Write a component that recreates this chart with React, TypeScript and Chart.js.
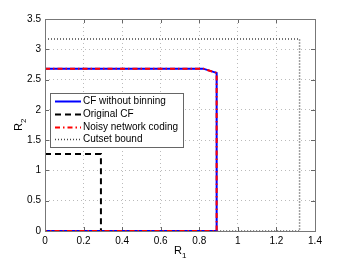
import React, { useEffect, useRef } from "react";
import { Chart, registerables } from "chart.js";

Chart.register(...registerables);

const cfX = [0, 0.82, 0.89, 0.89, 0];
const cfY = [2.68, 2.68, 2.61, 0, 0];
const origX = [0, 0.29, 0.29];
const origY = [1.27, 1.27, 0];
const nncX = [0, 0.82, 0.89, 0.89, 0];
const nncY = [2.68, 2.68, 2.61, 0, 0];
const cutX = [0, 1.32, 1.32, 0.89];
const cutY = [3.17, 3.17, 0, 0];
const xTicks = [0, 0.2, 0.4, 0.6, 0.8, 1, 1.2, 1.4];
const yTicks = [0, 0.5, 1, 1.5, 2, 2.5, 3, 3.5];
const legendLabels = ["CF without binning", "Original CF", "Noisy network coding", "Cutset bound"];

const FONT = "'Liberation Sans', Arial, sans-serif";

const pts = (xs: number[], ys: number[]) => xs.map((x, i) => ({ x, y: ys[i] }));

const decorPlugin = {
  id: "decor",
  beforeDatasetsDraw(chart: any) {
    const { ctx, chartArea: a } = chart;
    ctx.save();
    ctx.strokeStyle = "#666";
    ctx.lineWidth = 1;
    const xs = chart.scales.x;
    const ys = chart.scales.y;
    ctx.beginPath();
    xTicks.forEach((t) => {
      const px = Math.round(xs.getPixelForValue(t)) + 0.5;
      ctx.moveTo(px, a.bottom);
      ctx.lineTo(px, a.bottom - 4);
      ctx.moveTo(px, a.top);
      ctx.lineTo(px, a.top + 4);
    });
    yTicks.forEach((t) => {
      const py = Math.round(ys.getPixelForValue(t)) + 0.5;
      ctx.moveTo(a.left, py);
      ctx.lineTo(a.left + 4, py);
      ctx.moveTo(a.right, py);
      ctx.lineTo(a.right - 4, py);
    });
    ctx.stroke();
    ctx.restore();
  },
  afterDatasetsDraw(chart: any) {
    const { ctx, chartArea: a } = chart;
    ctx.save();
    ctx.strokeStyle = "#777";
    ctx.lineWidth = 1;
    ctx.strokeRect(Math.round(a.left) + 0.5, Math.round(a.top) + 0.5, Math.round(a.right - a.left), Math.round(a.bottom - a.top));
    ctx.fillStyle = "#000";
    ctx.textBaseline = "alphabetic";
    ctx.font = `11px ${FONT}`;
    const cx = (a.left + a.right) / 2;
    ctx.textAlign = "left";
    ctx.fillText("R", cx - 6, 254);
    ctx.font = `8px ${FONT}`;
    ctx.fillText("1", cx + 2, 258);
    ctx.save();
    ctx.translate(22, (a.top + a.bottom) / 2);
    ctx.rotate(-Math.PI / 2);
    ctx.font = `11px ${FONT}`;
    ctx.fillText("R", -6, 0);
    ctx.font = `8px ${FONT}`;
    ctx.fillText("2", 2, 4);
    ctx.restore();
    const lx = 50.5, ly = 93.5, lw = 133, lh = 54;
    ctx.fillStyle = "#fff";
    ctx.fillRect(lx, ly, lw, lh);
    ctx.strokeStyle = "#666";
    ctx.lineWidth = 1;
    ctx.strokeRect(lx, ly, lw, lh);
    const rows = [101, 114, 127, 139];
    ctx.font = `10px ${FONT}`;
    ctx.textBaseline = "middle";
    chart.data.datasets.forEach((ds: any, i: number) => {
      const y = rows[i] + 0.5;
      ctx.save();
      ctx.strokeStyle = ds.borderColor;
      ctx.lineWidth = ds.borderWidth;
      ctx.setLineDash(ds.borderDash || []);
      ctx.beginPath();
      ctx.moveTo(55, y);
      ctx.lineTo(81, y);
      ctx.stroke();
      ctx.restore();
      ctx.fillStyle = "#000";
      ctx.fillText(legendLabels[i], 83, y);
    });
    ctx.restore();
  },
};

export default function App() {
  const ref = useRef<HTMLCanvasElement>(null);
  useEffect(() => {
    document.body.style.margin = "0";
    const chart = new Chart(ref.current!, {
      type: "line",
      data: {
        datasets: [
          {
            label: legendLabels[0],
            data: pts(cfX, cfY),
            borderColor: "#0000ff",
            borderWidth: 2,
            pointRadius: 0,
            fill: false,
            tension: 0,
            order: 3,
          },
          {
            label: legendLabels[1],
            data: pts(origX, origY),
            borderColor: "#000",
            borderWidth: 2,
            borderDash: [6, 4],
            pointRadius: 0,
            fill: false,
            order: 2,
          },
          {
            label: legendLabels[2],
            data: pts(nncX, nncY),
            borderColor: "#ff0000",
            borderWidth: 2,
            borderDash: [5, 3, 1.5, 3],
            pointRadius: 0,
            fill: false,
            order: 1,
          },
          {
            label: legendLabels[3],
            data: pts(cutX, cutY),
            borderColor: "#444",
            borderWidth: 1.5,
            borderDash: [1, 2],
            pointRadius: 0,
            fill: false,
            order: 4,
          },
        ],
      },
      options: {
        animation: false,
        responsive: false,
        maintainAspectRatio: false,
        layout: { padding: { top: 19, right: 33, left: 0, bottom: 0 } },
        plugins: { legend: { display: false }, tooltip: { enabled: false } },
        scales: {
          x: {
            type: "linear",
            min: 0,
            max: 1.4,
            afterBuildTicks: (s: any) => {
              s.ticks = xTicks.map((v) => ({ value: v }));
            },
            afterFit: (s: any) => {
              s.height = 30;
            },
            border: { display: false, dash: [1, 3] },
            grid: { color: "#bbb", drawTicks: false },
            ticks: {
              color: "#000",
              font: { family: FONT, size: 10 },
              padding: 4,
              maxRotation: 0,
              callback: (v: any) => String(v),
            },
          },
          y: {
            type: "linear",
            min: 0,
            max: 3.5,
            afterBuildTicks: (s: any) => {
              s.ticks = yTicks.map((v) => ({ value: v }));
            },
            afterFit: (s: any) => {
              s.width = 45;
            },
            border: { display: false, dash: [1, 3] },
            grid: { color: "#bbb", drawTicks: false },
            ticks: {
              color: "#000",
              font: { family: FONT, size: 10 },
              padding: 4,
              callback: (v: any) => String(v),
            },
          },
        },
      } as any,
      plugins: [decorPlugin],
    });
    return () => chart.destroy();
  }, []);
  return (
    <div style={{ position: "absolute", left: 0, top: 0, width: 348, height: 261 }}>
      <canvas ref={ref} width={348} height={261} style={{ width: 348, height: 261 }} />
    </div>
  );
}
